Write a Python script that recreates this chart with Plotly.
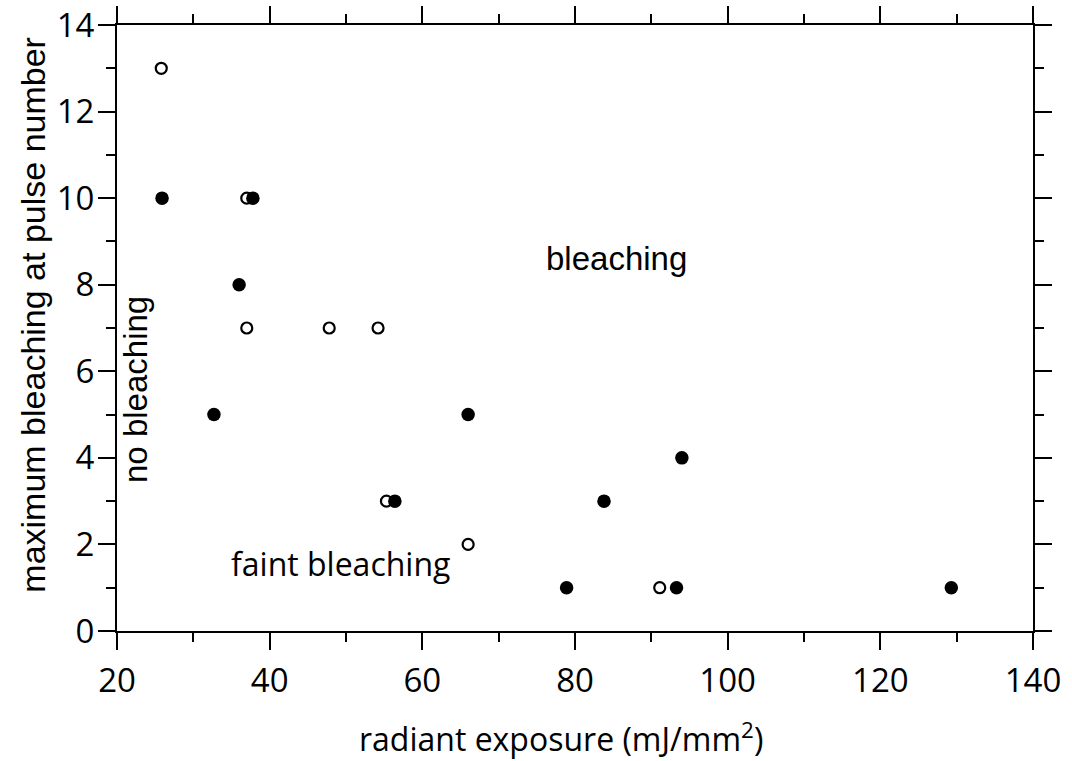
import plotly.graph_objects as go

# Filled circles: bleaching observed
filled_x = [25.9, 37.8, 36.0, 32.7, 66.0, 56.4, 94.0, 83.8, 78.9, 93.3, 129.3]
filled_y = [10, 10, 8, 5, 5, 3, 4, 3, 1, 1, 1]

# Open circles
open_x = [25.8, 37.0, 37.0, 47.8, 54.2, 55.3, 66.0, 91.1]
open_y = [13, 10, 7, 7, 7, 3, 2, 1]

x_ticks = [20, 40, 60, 80, 100, 120, 140]
y_ticks = [0, 2, 4, 6, 8, 10, 12, 14]

TICK_FONT = "Open Sans"
SANS = "Liberation Sans"

fig = go.Figure()
fig.add_trace(go.Scatter(
    x=open_x, y=open_y, mode="markers",
    marker=dict(symbol="circle-open", size=11, color="black", line=dict(width=2.2)),
    showlegend=False, hoverinfo="x+y",
))
fig.add_trace(go.Scatter(
    x=filled_x, y=filled_y, mode="markers",
    marker=dict(symbol="circle", size=13.5, color="black", line=dict(width=0)),
    showlegend=False, hoverinfo="x+y",
))

axis_common = dict(
    showline=True, linecolor="black", linewidth=2, mirror="allticks",
    ticks="outside", ticklen=17, tickwidth=2, tickcolor="black",
    showgrid=False, zeroline=False, automargin=False,
    tickfont=dict(family=TICK_FONT, size=33, color="black"),
)

fig.update_xaxes(
    range=[20, 140], tickvals=x_ticks, ticktext=[str(v) for v in x_ticks],
    minor=dict(dtick=10, ticks="outside", ticklen=9, tickwidth=2, tickcolor="black", showgrid=False),
    ticklabelstandoff=2,
    **axis_common,
)
fig.update_yaxes(
    range=[0, 14], tickvals=y_ticks, ticktext=[str(v) for v in y_ticks],
    minor=dict(dtick=1, ticks="outside", ticklen=9, tickwidth=2, tickcolor="black", showgrid=False),
    ticklabelstandoff=-3,
    **axis_common,
)

# Axis titles
fig.add_annotation(
    xref="paper", yref="paper", x=0.262, y=-0.175, xanchor="left", yanchor="middle",
    text="radiant exposure (mJ/mm<sup>2</sup>)", showarrow=False,
    font=dict(family=TICK_FONT, size=32, color="black"),
)
fig.add_annotation(
    xref="paper", yref="paper", x=-0.0917, y=0.522, xanchor="center", yanchor="middle",
    text="maximum bleaching at pulse number", showarrow=False, textangle=-90,
    font=dict(family=SANS, size=34, color="black"),
)

# Region labels
fig.add_annotation(x=85.5, y=8.6, text="bleaching", showarrow=False,
                   font=dict(family=SANS, size=33, color="black"))
fig.add_annotation(x=49.3, y=1.55, text="faint bleaching", showarrow=False,
                   font=dict(family=TICK_FONT, size=32, color="black"))
fig.add_annotation(x=22.5, y=5.57, text="no bleaching", showarrow=False, textangle=-90,
                   font=dict(family=SANS, size=33, color="black"))

fig.update_layout(
    width=1072, height=761,
    margin=dict(l=117, r=39, t=25, b=130),
    paper_bgcolor="white", plot_bgcolor="white",
)

fig.write_html("out.html")
